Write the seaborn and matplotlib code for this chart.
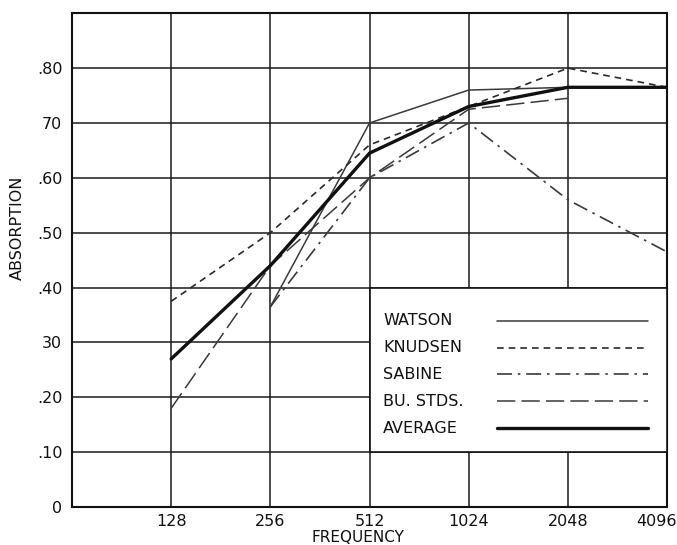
import numpy as np
import pandas as pd
import matplotlib
matplotlib.use("Agg")
import matplotlib.pyplot as plt
import matplotlib.transforms as mtransforms
from matplotlib.patches import Rectangle
from matplotlib.lines import Line2D
import seaborn as sns

sns.set_theme(style="white")
plt.rcParams['font.family'] = ['DejaVu Sans']

# data
freqs = [128, 256, 512, 1024, 2048, 4096]
watson = [np.nan, 0.365, 0.70, 0.76, 0.765, 0.765]
knudsen = [0.375, 0.50, 0.66, 0.73, 0.80, 0.765]
sabine = [np.nan, 0.365, 0.60, 0.70, 0.56, 0.465]
bu_stds = [0.18, 0.44, 0.60, 0.725, 0.745, np.nan]
average = [0.27, 0.44, 0.645, 0.73, 0.765, 0.765]

series_names = ["WATSON", "KNUDSEN", "SABINE", "BU. STDS.", "AVERAGE"]
series_values = [watson, knudsen, sabine, bu_stds, average]

y_ticks = [0, 0.1, 0.2, 0.3, 0.4, 0.5, 0.6, 0.7, 0.8]
y_tick_labels = ["0", ".10", ".20", "30", ".40", ".50", ".60", "70", ".80"]
x_tick_labels = ["128", "256", "512", "1024", "2048", "4096"]

styles = {
    "WATSON": dict(color="#3a3a3a", lw=1.1, dashes=None),
    "KNUDSEN": dict(color="#2a2a2a", lw=1.2, dashes=(4, 3)),
    "SABINE": dict(color="#3a3a3a", lw=1.2, dashes=(9, 3.5, 1.5, 3.5)),
    "BU. STDS.": dict(color="#3a3a3a", lw=1.1, dashes=(12, 4)),
    "AVERAGE": dict(color="#111111", lw=2.4, dashes=None),
}

df = pd.DataFrame({"freq": freqs * len(series_names),
                   "source": np.repeat(series_names, len(freqs)),
                   "absorption": np.concatenate(series_values)}).dropna()

fig = plt.figure(figsize=(6.77, 5.45), dpi=100)
ax = fig.add_axes([0.1064, 0.0697, 0.8789, 0.906])

for name in series_names:
    st = styles[name]
    sub = df[df["source"] == name]
    sns.lineplot(data=sub, x="freq", y="absorption", ax=ax, color=st["color"],
                 linewidth=st["lw"], legend=False, zorder=3)
    if st["dashes"] is not None:
        ax.get_lines()[-1].set_dashes(st["dashes"])

ax.set_xscale("log", base=2)
ax.set_xlim(64, 4096)
ax.set_ylim(0, 0.9)
ax.set_xticks(freqs)
ax.set_xticklabels(x_tick_labels)
ax.minorticks_off()
ax.set_yticks(y_ticks)
ax.set_yticklabels(y_tick_labels)
ax.tick_params(axis="both", length=0, labelsize=11.5, colors="#111111")
ax.tick_params(axis="x", pad=5)
ax.tick_params(axis="y", pad=7)

# last x label is pushed left so it stays inside the figure
last = ax.get_xticklabels()[-1]
last.set_ha("right")
last.set_transform(last.get_transform() +
                   mtransforms.ScaledTranslation(7 / 72, 0, fig.dpi_scale_trans))

ax.grid(True, color="#1a1a1a", linewidth=1.1, zorder=1)
ax.set_axisbelow(True)
for sp in ax.spines.values():
    sp.set_color("#111111")
    sp.set_linewidth(1.5)

ax.set_xlabel("FREQUENCY", fontsize=11, color="#111111")
ax.set_ylabel("ABSORPTION", fontsize=11.5, color="#111111")
ax.xaxis.set_label_coords(0.48, -0.047)
ax.yaxis.set_label_coords(-0.079, 0.565)

# legend box sits in the grid cells between 512-4096 and .10-.40
ax.add_patch(Rectangle((0.5, 1 / 9), 0.5, 3 / 9, transform=ax.transAxes,
                       facecolor="white", edgecolor="#111111", linewidth=1.2,
                       zorder=4))
row_y = [0.377, 0.323, 0.269, 0.214, 0.160]
for name, y in zip(series_names, row_y):
    st = styles[name]
    ax.text(0.523, y, name, transform=ax.transAxes, va="center", ha="left",
            fontsize=11.5, color="#111111", zorder=5)
    ln = Line2D([0.714, 0.968], [y, y], transform=ax.transAxes,
                color=st["color"], linewidth=st["lw"], zorder=5)
    if st["dashes"] is not None:
        ln.set_dashes(st["dashes"])
    ax.add_line(ln)

fig.savefig("out.png", dpi=100)
